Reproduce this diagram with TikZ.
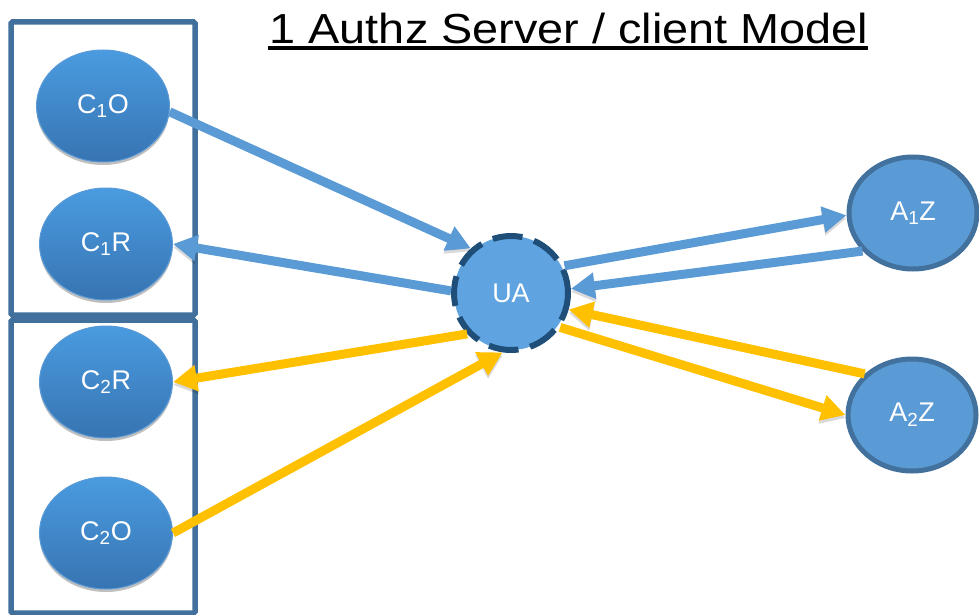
\documentclass[tikz,border=0pt]{standalone}
\usepackage{fontspec}
\setmainfont{Liberation Sans}
\usetikzlibrary{arrows.meta,shapes.geometric,shadows}

\definecolor{boxline}{HTML}{41709C}
\definecolor{ctop}{HTML}{4A9BE0}
\definecolor{cbot}{HTML}{3774B2}
\definecolor{crim}{HTML}{5A9AD6}
\definecolor{uafill}{HTML}{5FA3E0}
\definecolor{ualine}{HTML}{1F4E79}
\definecolor{azfill}{HTML}{5B9BD5}
\definecolor{azline}{HTML}{41719C}
\definecolor{bluearrow}{HTML}{5B9BD5}
\definecolor{goldarrow}{HTML}{FFC000}

\tikzset{
  groupbox/.style={draw=boxline, line width=5.5pt, rounded corners=1.5pt},
  client/.style={ellipse, minimum width=133pt, minimum height=112pt, inner sep=0pt,
    top color=ctop, bottom color=cbot, draw=crim, line width=1pt,
    drop shadow={shadow xshift=0pt, shadow yshift=-3pt, opacity=0.25, fill=black},
    text=white, font=\fontsize{27}{30}\selectfont},
  agent/.style={circle, minimum size=114pt, inner sep=0pt, fill=uafill,
    draw=ualine, line width=6pt, dash pattern=on 30pt off 12pt, dash phase=6pt,
    text=white, font=\fontsize{27}{30}\selectfont},
  server/.style={ellipse, minimum width=128pt, minimum height=112pt, inner sep=0pt,
    fill=azfill, draw=azline, line width=5pt,
    text=white, font=\fontsize{27}{30}\selectfont},
  flow/.style={line width=9pt, -{Triangle[length=24pt,width=25pt]},
    preaction={draw=black, fill=black, opacity=0.15,
      transform canvas={yshift=-3pt}}},
  blueflow/.style={flow, draw=bluearrow, fill=bluearrow},
  goldflow/.style={flow, draw=goldarrow, fill=goldarrow},
}

\newcommand{\lbl}[3]{#1\textsubscript{#2}#3}

\begin{document}
\begin{tikzpicture}[x=1pt, y=-1pt]
  \useasboundingbox (0,0) rectangle (979,615);

  % title
  \node (title) at (569,28) {\fontsize{42}{46}\selectfont\scalebox{1.115}[1]{1 Authz Server / client Model}};
  \draw[line width=3.5pt] (268,48) -- (868,48);

  % client groups
  \draw[groupbox] (11,22) rectangle (195,315);
  \draw[groupbox] (11,320) rectangle (195,613);

  % clients
  \node[client] (c1o) at (103,106) {\lbl{C}{1}{O}};
  \node[client] (c1r) at (106,244) {\lbl{C}{1}{R}};
  \node[client] (c2r) at (106,382) {\lbl{C}{2}{R}};
  \node[client] (c2o) at (106,533) {\lbl{C}{2}{O}};

  % user agent
  \node[agent] (ua) at (511,293) {UA};

  % authorization servers
  \node[server] (a1z) at (913,213) {\lbl{A}{1}{Z}};
  \node[server] (a2z) at (912,415) {\lbl{A}{2}{Z}};

  % first client and first server
  \draw[blueflow] (c1o.-5) -- (ua.132);
  \draw[blueflow] (ua.178) -- (c1r.east);
  \draw[blueflow] (ua.27) -- (a1z.182);
  \draw[blueflow] (a1z.217) -- (ua.4);

  % second client and second server
  \draw[goldflow] (a2z.139) -- (ua.-16);
  \draw[goldflow] (ua.-35) -- (a2z.west);
  \draw[goldflow] (ua.223) -- (c2r.east);
  \draw[goldflow] (c2o.east) -- (ua.262);
\end{tikzpicture}
\end{document}
